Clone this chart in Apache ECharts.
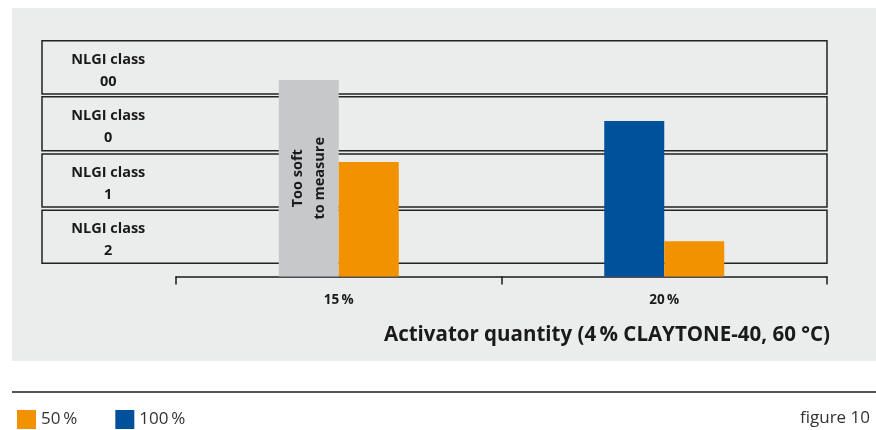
<!DOCTYPE html>
<html>
<head>
<meta charset="utf-8">
<script src="https://cdn.jsdelivr.net/npm/echarts@6/dist/echarts.min.js"></script>
<style>html,body{margin:0;padding:0;background:#fff}#c{width:876px;height:430px}</style>
</head>
<body>
<div id="c"></div>
<script>
var categories = ['15\u2009%', '20\u2009%'];
var series100 = [3.50, 2.77];
var series50 = [2.04, 0.63];
var seriesNames = ['50\u2009%', '100\u2009%'];
var bandLabels = ['NLGI class\n2', 'NLGI class\n1', 'NLGI class\n0', 'NLGI class\n00'];
var bandLows = [0.235, 1.24, 2.24, 3.25];
var bandHighs = [1.18, 2.18, 3.2, 4.2];
var yMax = 4.2;
var tooSoftLabel = 'Too soft\nto measure';
var axisTitle = 'Activator quantity (4\u2009% CLAYTONE-40, 60 \u00B0C)';

var FONT = '"Open Sans", "Noto Sans", sans-serif';
var chart = echarts.init(document.getElementById('c'), null, {renderer: 'canvas'});

var bandAreas = bandLows.map(function (lo, i) {
  return [{yAxis: lo, name: bandLabels[i]}, {yAxis: bandHighs[i]}];
});

var option = {
  animation: false,
  textStyle: {fontFamily: FONT},
  graphic: [
    {type: 'rect', z: -10, shape: {x: 12, y: 8, width: 864, height: 353}, style: {fill: '#ebecec'}},
    {type: 'line', shape: {x1: 12, y1: 392, x2: 876, y2: 392}, style: {stroke: '#555', lineWidth: 2}},
    {type: 'text', right: 6, top: 410, style: {text: 'figure 10', fontSize: 17, fill: '#333', fontFamily: FONT}}
  ],
  title: {
    text: axisTitle, right: 41, top: 320,
    textStyle: {fontSize: 20.5, fontWeight: 'bold', color: '#1a1a1a', fontFamily: FONT}
  },
  legend: {
    data: seriesNames, left: 12, top: 405, itemWidth: 19, itemHeight: 19, itemGap: 38, icon: 'rect',
    textStyle: {fontSize: 17, color: '#333', padding: [0, 0, 0, 0], fontFamily: FONT}
  },
  grid: [
    {left: 42, right: 49, top: 40.7, bottom: 153.5},
    {left: 176, right: 49, top: 40.7, bottom: 153.5}
  ],
  xAxis: [
    {gridIndex: 0, type: 'value', min: 0, max: 1, show: false},
    {gridIndex: 1, type: 'category', data: categories,
     axisLine: {lineStyle: {color: '#1a1a1a', width: 1.5}},
     axisTick: {show: true, length: 8, lineStyle: {color: '#1a1a1a', width: 1.5}},
     axisLabel: {fontSize: 13.5, fontWeight: 'bold', color: '#1a1a1a', margin: 17, fontFamily: FONT}}
  ],
  yAxis: [
    {gridIndex: 0, type: 'value', min: 0, max: yMax, show: false},
    {gridIndex: 1, type: 'value', min: 0, max: yMax, show: false}
  ],
  series: [
    {
      type: 'line', xAxisIndex: 0, yAxisIndex: 0, data: [], symbol: 'none', z: 1, silent: true,
      markArea: {
        silent: true,
        itemStyle: {color: 'rgba(0,0,0,0)', borderColor: '#222', borderWidth: 1.5},
        label: {show: true, position: [67, '56%'], align: 'center', verticalAlign: 'middle',
                fontSize: 14.5, fontWeight: 'bold', color: '#1a1a1a', lineHeight: 22, fontFamily: FONT},
        data: bandAreas
      }
    },
    {
      name: seriesNames[1], type: 'bar', xAxisIndex: 1, yAxisIndex: 1, z: 5,
      barWidth: 60, barGap: '0%',
      itemStyle: {color: '#00519b'},
      data: series100.map(function (v, i) {
        if (i === 0) {
          return {value: v, itemStyle: {color: '#c7c8ca'},
            label: {show: true, position: 'inside', rotate: 90, formatter: tooSoftLabel,
                    fontSize: 14.5, fontWeight: 'bold', color: '#1a1a1a', lineHeight: 22, fontFamily: FONT}};
        }
        return v;
      })
    },
    {
      name: seriesNames[0], type: 'bar', xAxisIndex: 1, yAxisIndex: 1, z: 5,
      barWidth: 60, barGap: '0%',
      itemStyle: {color: '#f29200'},
      data: series50
    }
  ]
};
chart.setOption(option);
</script>
</body>
</html>
